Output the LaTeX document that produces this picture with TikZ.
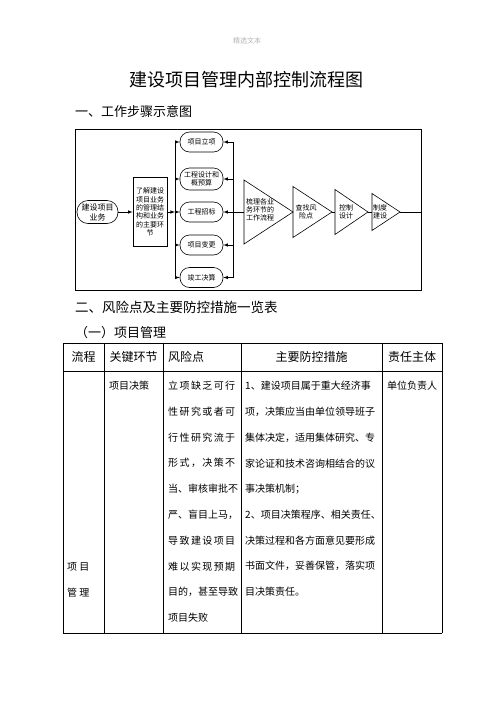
\documentclass[tikz,border=0pt]{standalone}
\usepackage{fontspec}
\setmainfont{Noto Sans CJK SC}

% spread the characters of one line over a fixed width
\let\spreadend\relax
\newcommand\spreadline[1]{\makebox[67pt][s]{\spreadgo#1\spreadend}}
\def\spreadgo#1#2{#1\ifx#2\spreadend\else\hfill\expandafter\spreadgo\expandafter#2\fi}

\begin{document}
\begin{tikzpicture}[
  x=1pt, y=-1pt,
  every node/.style={inner sep=0pt, font=\fontsize{7}{8.3}\selectfont},
  pill/.style={draw, line width=0.6pt, rounded corners=9.5pt, minimum width=43pt,
  minimum height=20pt, align=center},
  link/.style={draw, line width=0.6pt},
  arr/.style={link, -latex},
  head/.style={font=\fontsize{12}{14}\selectfont},
  body/.style={anchor=west, font=\fontsize{10}{12}\selectfont},
  rule/.style={line width=0.8pt}
]
\useasboundingbox (0,0) rectangle (496,702);

\node[text=black!30] (mark) at (247,41) {精选文本};
\node[font=\fontsize{18}{20}\selectfont] (title) at (246.5,80) {建设项目管理内部控制流程图};
\node[anchor=west, font=\fontsize{13}{15}\selectfont] (sec1) at (75,111) {一、工作步骤示意图};

% flow chart
\draw[rule] (75,129) rectangle (421,290.5);
\node[pill, minimum width=41pt, minimum height=23pt, rounded corners=11pt,
  font=\fontsize{8}{10}\selectfont] (biz) at (97.5,212) {建设项目\\业务};
\node[draw, line width=0.7pt, minimum width=34pt, minimum height=69pt, align=center]
  (learn) at (150,212) {了解建设\\项目业务\\的管理结\\构和业务\\的主要环\\节};
\node[pill] (lixiang) at (201.5,142) {项目立项};
\node[pill, minimum height=22pt] (sheji) at (201.5,179) {工程设计和\\概预算};
\node[pill] (zhaobiao) at (201.5,212) {工程招标};
\node[pill] (biangeng) at (201.5,245) {项目变更};
\node[pill] (juesuan) at (201.5,277.5) {竣工决算};

\coordinate (lbus) at (175,212);
\coordinate (rbus) at (233,212);
\draw[arr] (biz) -- (learn);
\draw[arr] (learn) -- (lbus);
\draw[link] (lbus |- lixiang.west) -- (lbus |- juesuan.west);
\draw[link] (rbus |- lixiang.east) -- (rbus |- juesuan.east);
\foreach \n in {lixiang,sheji,zhaobiao,biangeng,juesuan} {
  \draw[arr] (lbus |- \n.west) -- (\n.west);
  \draw[arr] (rbus |- \n.east) -- (\n.east);
}

% triangles
\foreach \a/\b/\h/\nm in {244/293/32/t1, 293/332/25.5/t2, 335/368/22.5/t3, 372/400/18.5/t4} {
  \draw[link] (\a,212-\h) -- (\b,212) -- (\a,212+\h) -- cycle;
  \coordinate (\nm w) at (\a,212);
  \coordinate (\nm e) at (\b,212);
}
\node[align=center] (shuli) at (260,210) {梳理各业\\务环节的\\工作流程};
\node[align=center] (chazhao) at (306,211.5) {查找风\\险点};
\node[align=center] (kongzhi) at (346,211.5) {控制\\设计};
\node[align=center] (zhidu) at (380,211.5) {制度\\建设};
\coordinate (fe) at (421,212);
\draw[link] (rbus) -- (t1w);
\draw[link] (t2e) -- (t3w);
\draw[link] (t3e) -- (t4w);
\draw[link] (t4e) -- (fe);

\node[anchor=west, font=\fontsize{13.5}{15}\selectfont] (sec2) at (75,307) {二、风险点及主要防控措施一览表};
\node[anchor=west, font=\fontsize{13}{15}\selectfont] (sub1) at (75,333) {（一）项目管理};

% table
\foreach \x in {63,104,163,241,382,442}
  \draw[rule] (\x,343) -- (\x,633);
\foreach \y in {343,371,633}
  \draw[rule] (63,\y) -- (442,\y);

\node[head] (h1) at (83.5,357) {流程};
\node[head] (h2) at (133.5,357) {关键环节};
\node[head, anchor=west] (h3) at (168,357) {风险点};
\node[head] (h4) at (311.5,357) {主要防控措施};
\node[head] (h5) at (412,357) {责任主体};

\node[body] (flow1) at (67,567) {项 目};
\node[body] (flow2) at (67,593) {管 理};
\node[body] (key) at (109,386) {项目决策};
\node[body] (duty) at (387,386) {单位负责人};
\foreach \t [count=\i from 0] in {立项缺乏可行, 性研究或者可, 行性研究流于,
  形式，决策不, 当、审核审批不, 严、盲目上马，, 导致建设项目, 难以实现预期,
  目的，甚至导致}
  \node[body] (risk\i) at (168,386+25.75*\i) {\expandafter\spreadline\expandafter{\t}};
\node[body] (risk9) at (168,617.75) {项目失败};
\foreach \t [count=\i from 0] in {1、建设项目属于重大经济事, 项，决策应当由单位领导班子,
  集体决定，适用集体研究、专, 家论证和技术咨询相结合的议, 事决策机制；,
  2、项目决策程序、相关责任、, 决策过程和各方面意见要形成, 书面文件，妥善保管，落实项,
  目决策责任。}
  \node[body] (step\i) at (245,386+25.75*\i) {\t};
\end{tikzpicture}
\end{document}
